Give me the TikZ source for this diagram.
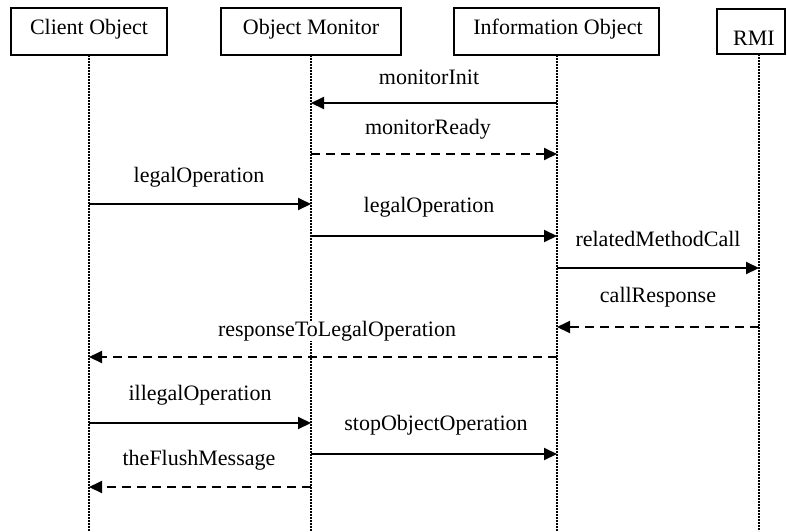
\documentclass[tikz,border=0pt]{standalone}
\usepackage{fontspec}
\setmainfont{Liberation Serif}
\usetikzlibrary{arrows.meta}
\begin{document}
\begin{tikzpicture}[x=1pt,y=-1pt,
  objbox/.style={draw=black, line width=1.3pt, inner sep=0pt},
  lbl/.style={anchor=base, inner sep=0pt, font=\fontsize{22}{26}\selectfont},
  msglbl/.style={lbl, fill=white},
  lifeline/.style={line width=2pt, dash pattern=on 1.6pt off 1.4pt},
  msg/.style={line width=2pt, -{Triangle[length=13pt,width=12pt]}},
  reply/.style={msg, dash pattern=on 9pt off 6pt}]
\useasboundingbox (0,0) rectangle (787,531);
% objects
\node[objbox, minimum width=156pt, minimum height=47pt] (client) at (89,31.5) {};
\node[objbox, minimum width=180pt, minimum height=47pt] (monitor) at (311,31.5) {};
\node[objbox, minimum width=205pt, minimum height=47pt] (info) at (556.5,31.5) {};
\node[objbox, minimum width=68pt, minimum height=45pt] (rmi) at (751,31.5) {};
\node[lbl] (clientT) at (89,34) {Client Object};
\node[lbl] (monitorT) at (311,34) {Object Monitor};
\node[lbl] (infoT) at (558,34) {Information Object};
\node[lbl] (rmiT) at (754,45) {RMI};
% lifelines
\coordinate (cTop) at (89,55); \coordinate (cBot) at (89,531);
\coordinate (mTop) at (311,55); \coordinate (mBot) at (311,531);
\coordinate (iTop) at (557,55); \coordinate (iBot) at (557,531);
\coordinate (rTop) at (759,54); \coordinate (rBot) at (759,531);
\draw[lifeline] (cTop) -- (cBot);
\draw[lifeline] (mTop) -- (mBot);
\draw[lifeline] (iTop) -- (iBot);
\draw[lifeline] (rTop) -- (rBot);
% message end points
\coordinate (i1) at (557,103); \coordinate (m1) at (311,103);
\coordinate (m2) at (311,154); \coordinate (i2) at (557,154);
\coordinate (c3) at (89,204); \coordinate (m3) at (311,204);
\coordinate (m4) at (311,236); \coordinate (i4) at (557,236);
\coordinate (i5) at (557,268); \coordinate (r5) at (759,268);
\coordinate (r6) at (759,327); \coordinate (i6) at (557,327);
\coordinate (i7) at (557,357); \coordinate (c7) at (89,357);
\coordinate (c8) at (89,423); \coordinate (m8) at (311,423);
\coordinate (m9) at (311,454); \coordinate (i9) at (557,454);
\coordinate (m10) at (311,487); \coordinate (c10) at (89,487);
% messages
\draw[msg] (i1) -- (m1);
\draw[reply] (m2) -- (i2);
\draw[msg] (c3) -- (m3);
\draw[msg] (m4) -- (i4);
\draw[msg] (i5) -- (r5);
\draw[reply] (r6) -- (i6);
\draw[reply] (i7) -- (c7);
\draw[msg] (c8) -- (m8);
\draw[msg] (m9) -- (i9);
\draw[reply] (m10) -- (c10);
% labels
\node[msglbl] (l1) at (429,84) {monitorInit};
\node[msglbl] (l2) at (428,134) {monitorReady};
\node[msglbl] (l3) at (199,182) {legalOperation};
\node[msglbl] (l4) at (429,212) {legalOperation};
\node[msglbl] (l5) at (658,246) {relatedMethodCall};
\node[msglbl] (l6) at (658,302) {callResponse};
\node[msglbl] (l7) at (337,336) {responseToLegalOperation};
\node[msglbl] (l8) at (200,400) {illegalOperation};
\node[msglbl] (l9) at (436,430) {stopObjectOperation};
\node[msglbl] (l10) at (199,465) {theFlushMessage};
\end{tikzpicture}
\end{document}
